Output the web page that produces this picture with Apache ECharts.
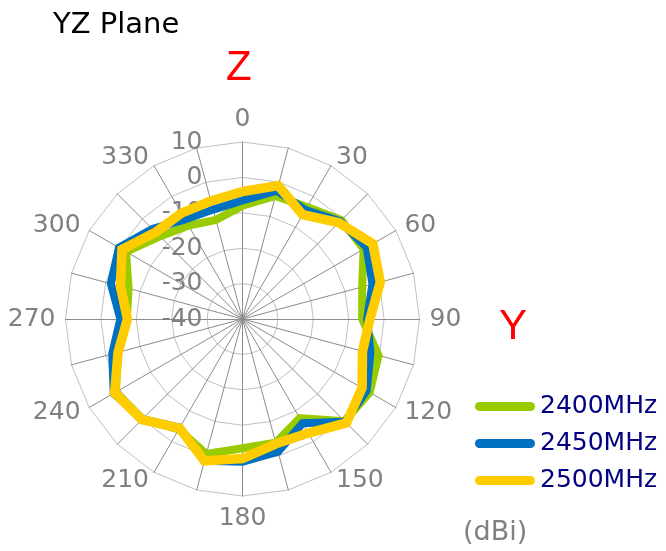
<!DOCTYPE html>
<html>
<head>
<meta charset="utf-8">
<script src="https://cdn.jsdelivr.net/npm/echarts@6/dist/echarts.min.js"></script>
<style>
html,body{margin:0;padding:0;background:#fff;}
#chart{width:666px;height:551px;}
</style>
</head>
<body>
<div id="chart"></div>
<script>
// Angles (degrees, clockwise from the top) and their labels
var angles = [0,15,30,45,60,75,90,105,120,135,150,165,180,195,210,225,240,255,270,285,300,315,330,345];
var angleLabels = ['0','','30','','60','','90','','120','','150','','180','','210','','240','','270','','300','','330',''];
// Radial tick labels (dBi)
var radialTicks = [-40,-30,-20,-10,0,10];
var seriesNames = ['2400MHz','2450MHz','2500MHz'];
// Gain values (dBi) at each angle
var gain2400 = [-8,-4,-3.5,-0.5,-0.5,-5,-6.2,-0.2,1.5,0.8,-7.7,-3.8,-3.5,-0.5,-4,0,1.3,-3.6,-7.3,-6.7,-2,-7,-9.5,-11];
var gain2450 = [-6.5,-2.5,-4.5,-1,0.5,-2,-4.8,-2.6,0.5,1,-6,-1.2,0.3,1.5,-4.6,0,2,-1.9,-5.5,-1.5,0.3,-4,-7.5,-8];
var gain2500 = [-4,-1,-6,-1.5,2.5,0.3,-4,-4.9,-1,1.5,-2.8,-3.5,-0.6,1.5,-4.4,0.2,1.7,-3.6,-7.5,-4.3,-0.7,-5.3,-5.5,-5.5];

// ECharts radar lays indicators counter-clockwise: reorder to get clockwise
function cw(arr){ var out=[arr[0]]; for(var i=arr.length-1;i>0;i--) out.push(arr[i]); return out; }
var rMin = radialTicks[0], rMax = radialTicks[radialTicks.length-1];
var indicators = cw(angleLabels).map(function(n){ return {name:n, min:rMin, max:rMax}; });

var cx = 242.5, cy = 319, R = 177;
var gray = '#808080';
var capsule = 'path://M4.5,0 L55.5,0 A4.5,4.5 0 0 1 55.5,9 L4.5,9 A4.5,4.5 0 0 1 4.5,0 Z';

var colors = ['#99cc00','#0070c0','#ffcc00'];
var widths = [8,8,9.5];
var datas = [gain2400, gain2450, gain2500];

var chart = echarts.init(document.getElementById('chart'), null, {renderer:'canvas'});
chart.setOption({
  animation:false,
  backgroundColor:'#ffffff',
  title:[
    {text:'YZ Plane', left:48, top:6, padding:5, textStyle:{fontFamily:'DejaVu Sans', fontSize:29, fontWeight:'normal', color:'#000'}},
    {text:'Z', left:226, top:47, padding:0, textStyle:{fontFamily:'Liberation Sans', fontSize:42, fontWeight:'normal', color:'#ff0000'}},
    {text:'Y', left:499, top:306, padding:0, textStyle:{fontFamily:'Liberation Sans', fontSize:42, fontWeight:'normal', color:'#ff0000'}},
    {text:'(dBi)', left:463, top:519, padding:0, textStyle:{fontFamily:'DejaVu Sans', fontSize:27, fontWeight:'normal', color:gray}}
  ],
  legend:{
    orient:'vertical', left:475, top:394, padding:0, itemGap:12,
    itemWidth:60, itemHeight:9, icon:capsule,
    itemStyle:{borderWidth:0},
    textStyle:{fontFamily:'DejaVu Sans', fontSize:25, color:'#000080'},
    data:seriesNames
  },
  grid:{left:cx, top:cy-R, width:1, height:R, containLabel:false, outerBoundsMode:'none'},
  xAxis:{type:'value', show:false},
  yAxis:{type:'value', min:rMin, max:rMax, interval:10,
    axisLine:{show:false}, axisTick:{show:false}, splitLine:{show:false},
    axisLabel:{margin:40, fontFamily:'DejaVu Sans', fontSize:25, color:gray}},
  radar:{
    center:[cx,cy], radius:R, startAngle:90, splitNumber:5, shape:'polygon',
    nameGap:10, indicator:indicators,
    axisName:{color:gray, fontFamily:'DejaVu Sans', fontSize:25},
    axisLine:{lineStyle:{color:'#8c8c8c', width:1}},
    splitLine:{lineStyle:{color:'#c0c0c0', width:1}},
    splitArea:{show:false},
    axisTick:{show:false}, axisLabel:{show:false}
  },
  series: datas.map(function(d,i){
    return {
      type:'radar', name:seriesNames[i], z:2+i, symbol:'none',
      itemStyle:{color:colors[i]},
      lineStyle:{color:colors[i], width:widths[i], join:'miter'},
      data:[{name:seriesNames[i], value:cw(d)}]
    };
  })
});
</script>
</body>
</html>
